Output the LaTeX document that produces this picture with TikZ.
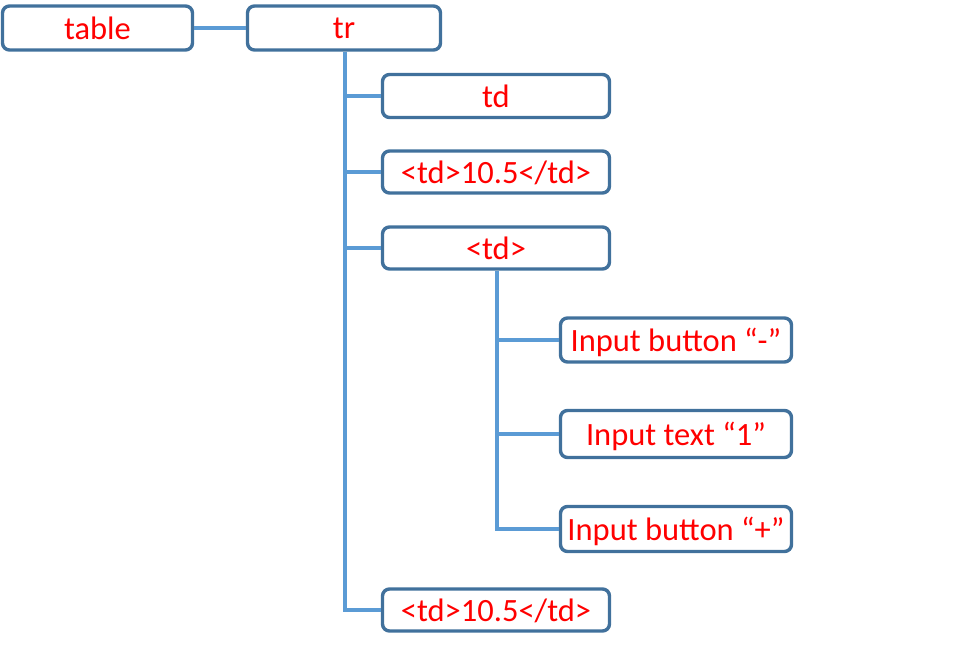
\documentclass[tikz,border=0pt]{standalone}
\usepackage{fontspec}
\setmainfont{Carlito}
\definecolor{boxborder}{HTML}{41719C}
\definecolor{linkblue}{HTML}{5B9BD5}
\definecolor{txtred}{HTML}{FF0000}
\begin{document}
\begin{tikzpicture}[x=1pt,y=-1pt,
  box/.style={draw=boxborder,line width=3.4pt,rounded corners=7pt,fill=white,
    text=txtred,font=\fontsize{32.5}{36}\selectfont,inner sep=0pt,anchor=center,
    text depth=0.5pt},
  link/.style={draw=linkblue,line width=3.5pt}]
\useasboundingbox (0,0) rectangle (962,650);
\node[box,minimum width=190,minimum height=44] (table) at (97.5,28) {table};
\node[box,minimum width=193,minimum height=44] (tr) at (344,28) {tr};
\node[box,minimum width=227,minimum height=43] (td1) at (496,96) {td};
\node[box,minimum width=227,minimum height=42] (td2) at (496,172) {<td>10.5</td>};
\node[box,minimum width=227,minimum height=42] (td3) at (496,248) {<td>};
\node[box,minimum width=231,minimum height=44] (in1) at (676,340) {Input button “-”};
\node[box,minimum width=231,minimum height=47] (in2) at (676,434) {Input text “1”};
\node[box,minimum width=231,minimum height=45] (in3) at (676,529) {Input button “+”};
\node[box,minimum width=227,minimum height=42] (td4) at (496,610) {<td>10.5</td>};
\coordinate (trx) at (345,0);
\coordinate (tdx) at (497,0);
\draw[link] (table.east) -- (tr.west);
\draw[link] (tr.south -| trx) -- (trx |- td4.west) -- (td4.west);
\draw[link] (trx |- td1.west) -- (td1.west);
\draw[link] (trx |- td2.west) -- (td2.west);
\draw[link] (trx |- td3.west) -- (td3.west);
\draw[link] (td3.south -| tdx) -- (tdx |- in3.west) -- (in3.west);
\draw[link] (tdx |- in1.west) -- (in1.west);
\draw[link] (tdx |- in2.west) -- (in2.west);
\end{tikzpicture}
\end{document}
